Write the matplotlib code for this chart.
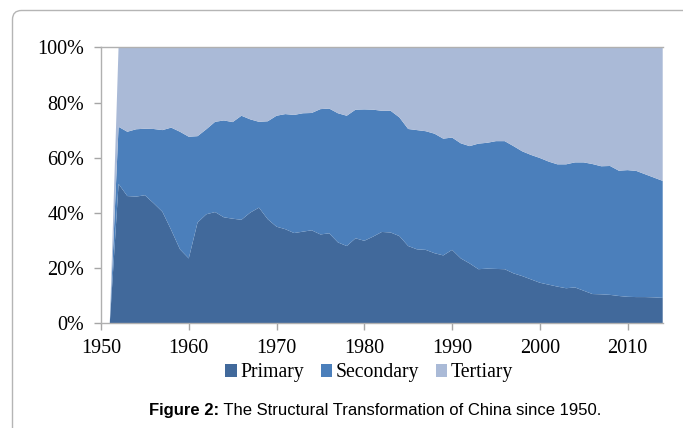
import matplotlib
matplotlib.use('Agg')
import matplotlib.pyplot as plt
from matplotlib.patches import FancyBboxPatch
import numpy as np

# Shares of GDP (%) by sector
years = list(range(1951, 2015))

primary = [0.0,
           50.5, 46.1, 45.9, 46.4, 43.5, 40.4, 33.8, 26.8, 23.5, 36.5,
           39.5, 40.3, 38.4, 37.9, 37.5, 40.1, 41.9, 37.7, 35.0, 34.1,
           32.7, 33.2, 33.7, 32.2, 32.6, 29.3, 28.0, 30.8, 29.9, 31.4,
           33.1, 32.9, 31.6, 28.0, 26.8, 26.6, 25.4, 24.6, 26.6, 23.5,
           21.7, 19.6, 19.8, 19.7, 19.6, 18.1, 17.1, 15.9, 14.7, 14.0,
           13.3, 12.7, 13.0, 11.8, 10.6, 10.5, 10.3, 9.9, 9.6, 9.5,
           9.5, 9.4, 9.2]

prim_plus_sec = [0.0,
                 71.2, 69.4, 70.3, 70.5, 70.4, 70.0, 70.9, 69.4, 67.6, 67.8,
                 70.3, 73.0, 73.5, 72.9, 75.2, 73.9, 73.0, 73.2, 75.2, 75.8,
                 75.5, 76.1, 76.2, 77.6, 77.8, 76.1, 75.2, 77.4, 77.5, 77.4,
                 77.0, 77.0, 74.6, 70.4, 70.0, 69.6, 68.7, 66.9, 67.3, 65.2,
                 64.2, 65.1, 65.4, 66.0, 66.0, 64.2, 62.3, 61.0, 59.9, 58.6,
                 57.6, 57.6, 58.3, 58.3, 57.7, 56.9, 57.0, 55.3, 55.5, 55.2,
                 54.0, 52.8, 51.6]

secondary = [s - p for s, p in zip(prim_plus_sec, primary)]
tertiary = [0.0] + [100 - s for s in prim_plus_sec[1:]]

labels = ['Primary', 'Secondary', 'Tertiary']
colors = ['#41699b', '#4b7fbb', '#aabad7']
xticks = [1950, 1960, 1970, 1980, 1990, 2000, 2010]
yticks = [0, 20, 40, 60, 80, 100]

W, H = 683, 428
fig = plt.figure(figsize=(W / 100, H / 100), dpi=100)

# outer rounded frame (only left/top visible in the original crop)
frame = FancyBboxPatch((12.5, -30), 720, H - 10.5 + 30,
                       boxstyle='round,pad=0,rounding_size=9',
                       transform=None, fill=False, edgecolor='#b5b5b5', linewidth=1.0)
fig.patches.append(frame)

ax = fig.add_axes([101 / W, (H - 323.3) / H, (662.7 - 101) / W, (323.3 - 47.3) / H])
polys = ax.stackplot(years, primary, secondary, tertiary, colors=colors, labels=labels,
                     edgecolor='none', linewidth=0)

ax.set_xlim(1950, 2014)
ax.set_ylim(0, 100)
ax.set_xticks(xticks)
ax.set_yticks(yticks)
ax.set_yticklabels([f'{v}%' for v in yticks])

serif = 'Liberation Serif'
for lab in ax.get_xticklabels() + ax.get_yticklabels():
    lab.set_fontfamily(serif)
    lab.set_fontsize(14.5)
ax.tick_params(axis='both', direction='out', length=5, width=1, color='#a6a6a6')
ax.tick_params(axis='y', pad=7)
ax.tick_params(axis='x', pad=6)

for side in ['left', 'bottom', 'top']:
    ax.spines[side].set_color('#b0b0b0')
    ax.spines[side].set_linewidth(1.0)
ax.spines['right'].set_visible(False)

leg = fig.legend(handles=polys, labels=labels, loc='center', bbox_to_anchor=(369 / W, (H - 373) / H),
                 ncol=3, frameon=False, prop={'family': serif, 'size': 14.2},
                 handlelength=0.6, handleheight=0.6, handletextpad=0.15, columnspacing=0.85,
                 borderaxespad=0, borderpad=0)

# caption with bold prefix
fig.canvas.draw()
renderer = fig.canvas.get_renderer()
t1 = fig.text(0, 0, 'Figure 2:', fontfamily='Liberation Sans', fontweight='bold', fontsize=12,
              va='baseline', transform=None)
t2 = fig.text(0, 0, ' The Structural Transformation of China since 1950.', fontfamily='Liberation Sans',
              fontsize=12, va='baseline', transform=None)
w1 = t1.get_window_extent(renderer).width
w2 = t2.get_window_extent(renderer).width
x0 = 375 - (w1 + w2) / 2
base = H - 415
t1.set_position((x0, base))
t2.set_position((x0 + w1, base))

fig.savefig('out.png', dpi=100)
